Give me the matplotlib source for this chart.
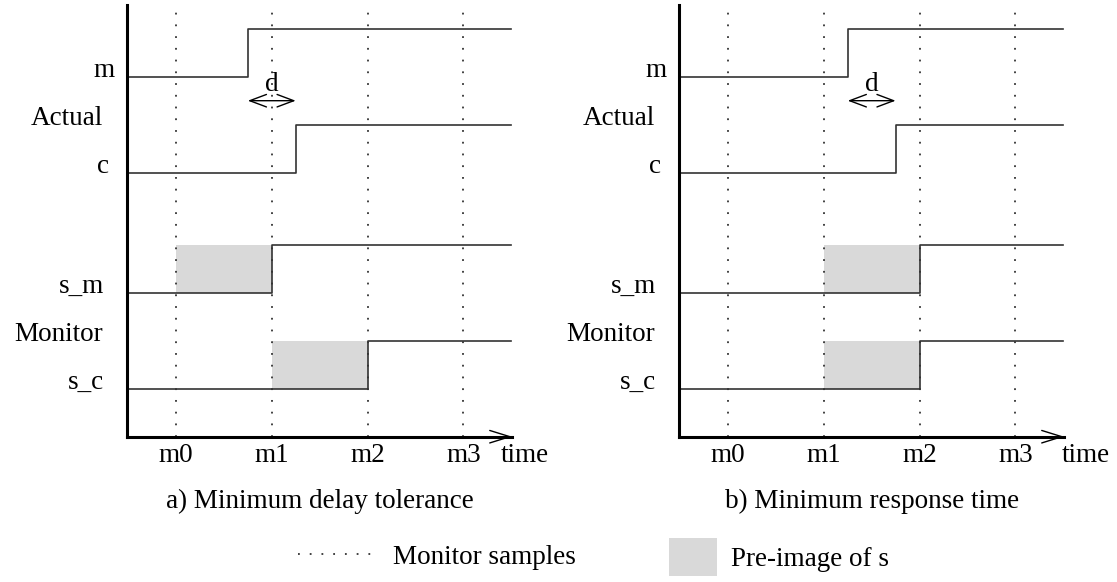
import matplotlib
matplotlib.use('Agg')
import matplotlib.pyplot as plt
from matplotlib.lines import Line2D
from matplotlib.patches import Patch

plt.rcParams['font.family'] = ['Liberation Serif', 'DejaVu Serif']
plt.rcParams['font.size'] = 19.5

# sample instants of the monitor
sample_times = [1, 2, 3, 4]
sample_labels = ['m0', 'm1', 'm2', 'm3']

# signals, their low level, and where each one steps up
signal_names = ['m', 'c', 's_m', 's_c']
signal_low = [7.5, 5.5, 3.0, 1.0]
label_x = [0.36, 0.30, 0.25, 0.25]
group_names = ['Actual', 'Monitor']
group_y = [6.5, 2.0]

steps_a = [1.75, 2.25, 2.0, 3.0]
steps_b = [2.25, 2.75, 3.0, 3.0]
# pre-image of s_m and s_c (start, end)
pre_start_a = [1, 2]
pre_end_a = [2, 3]
pre_start_b = [2, 2]
pre_end_b = [3, 3]

titles = ['a) Minimum delay tolerance', 'b) Minimum response time']
time_label_x = [4.64, 4.74]

W, H = 1117, 582
fig = plt.figure(figsize=(W / 100, H / 100), dpi=100)

x0, x1 = 0.49, 4.51
ytop = 9.0
pxx, pxy = 95.8, 48.0
line_c = '#333333'
dot_c = '#333333'
grey = '#d9d9d9'
dots = (0, (1, 5.5))


def panel(left_px, steps, pre_start, pre_end, title, tx):
    ax = fig.add_axes([left_px / W, (H - 436.7) / H,
                       (x1 - x0) * pxx / W, ytop * pxy / H])
    ax.set_xlim(x0, x1)
    ax.set_ylim(0, ytop)
    for s in ['top', 'right']:
        ax.spines[s].set_visible(False)
    for s in ['left', 'bottom']:
        ax.spines[s].set_linewidth(2.2)
    ax.set_xticks([])
    ax.set_yticks([])

    # monitor samples
    for t in sample_times:
        ax.plot([t, t], [0, ytop], color=dot_c, lw=1.3, linestyle=dots, zorder=1)

    # pre-images of sampled signals
    for k, (a, b) in enumerate(zip(pre_start, pre_end)):
        lo = signal_low[2 + k]
        ax.fill_between([a, b], lo, lo + 1, color=grey, lw=0, zorder=0)

    # signals
    for name, lo, t, lx in zip(signal_names, signal_low, steps, label_x):
        ax.plot([x0, t, 4.5], [lo, lo + 1, lo + 1], drawstyle='steps-post',
                color=line_c, lw=1.2, zorder=2)
        ax.text(lx, lo, name, ha='right', va='baseline')
    for g, gy in zip(group_names, group_y):
        ax.text(0.24, gy, g, ha='right', va='baseline')

    # delay d between m and c
    ax.annotate('', xy=(steps[0], 7.0), xytext=(steps[1], 7.0),
                arrowprops=dict(arrowstyle='<->,head_length=1.2,head_width=0.45',
                                lw=1.0, color='black', shrinkA=0, shrinkB=0,
                                mutation_scale=10))
    ax.text((steps[0] + steps[1]) / 2, 7.2, 'd', ha='center', va='baseline')

    # time arrow head
    ax.annotate('', xy=(x1, 0), xytext=(x1 - 0.4, 0), annotation_clip=False,
                arrowprops=dict(arrowstyle='->,head_length=1.45,head_width=0.45',
                                lw=1.0, color='black', shrinkA=0, shrinkB=0,
                                mutation_scale=10))

    for t, lab in zip(sample_times, sample_labels):
        ax.text(t, -0.53, lab, ha='center', va='baseline', clip_on=False)
    ax.text(tx, -0.53, 'time', ha='center', va='baseline', clip_on=False)
    ax.text((x0 + x1) / 2, -1.48, title, ha='center', va='baseline', clip_on=False)
    return ax


panel(127.1, steps_a, pre_start_a, pre_end_a, titles[0], time_label_x[0])
panel(679.1, steps_b, pre_start_b, pre_end_b, titles[1], time_label_x[1])

fs = plt.rcParams['font.size']
dot_handle = Line2D([], [], color=dot_c, lw=1.3, linestyle=dots)
fig.legend([dot_handle], ['Monitor samples'], loc='center left',
           bbox_to_anchor=(298 / W, 1 - 557 / H), frameon=False,
           borderpad=0, borderaxespad=0, handlelength=74 / (fs * 100 / 72),
           handletextpad=0.78)
patch_handle = Patch(facecolor=grey, edgecolor='none')
fig.legend([patch_handle], ['Pre-image of s'], loc='center left',
           bbox_to_anchor=(669 / W, 1 - 557 / H), frameon=False,
           borderpad=0, borderaxespad=0, handlelength=48 / (fs * 100 / 72),
           handleheight=47 / (fs * 100 / 72), handletextpad=0.52)

fig.savefig('out.png', dpi=100)
